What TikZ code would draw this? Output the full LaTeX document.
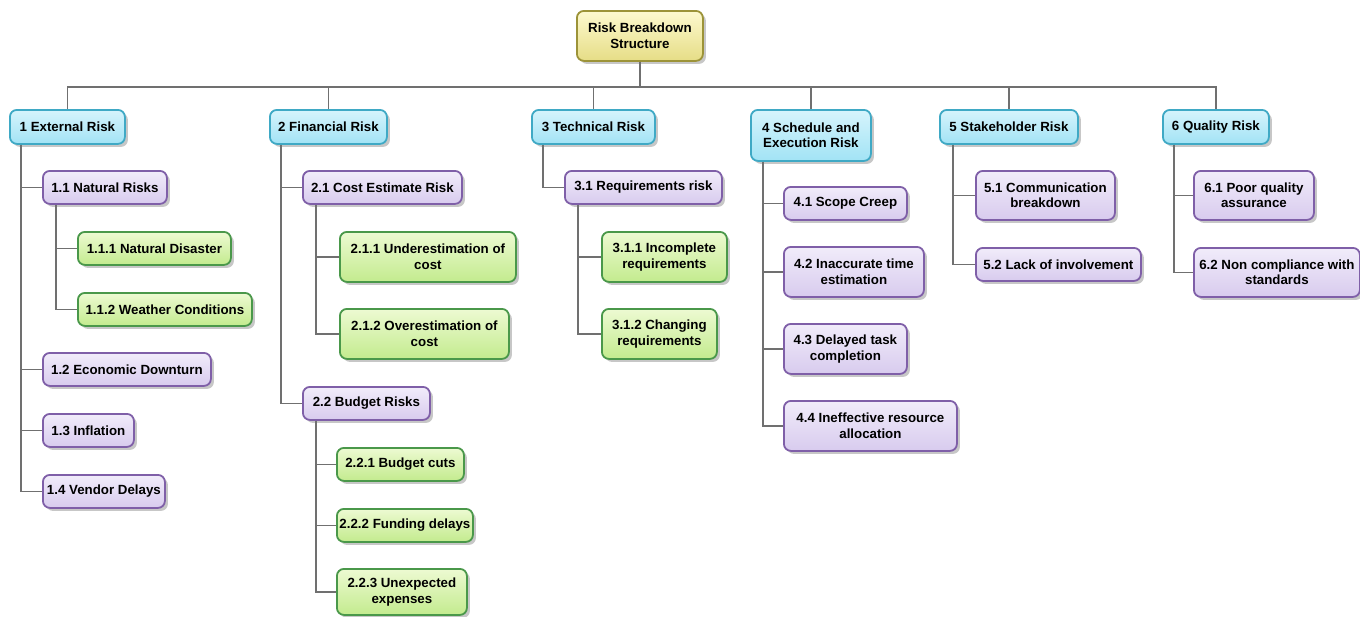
\documentclass[tikz,border=0pt]{standalone}
\usepackage{fontspec}
\setmainfont{Liberation Sans}
\usetikzlibrary{shadows}
\definecolor{roottop}{HTML}{FDF9CF}
\definecolor{rootbot}{HTML}{E6DD86}
\definecolor{rootdraw}{HTML}{9C9338}
\definecolor{bluetop}{HTML}{D6F4FC}
\definecolor{bluebot}{HTML}{A2E3F5}
\definecolor{bluedraw}{HTML}{3FA9C5}
\definecolor{purptop}{HTML}{F1ECFA}
\definecolor{purpbot}{HTML}{D8CBEE}
\definecolor{purpdraw}{HTML}{7F5FA8}
\definecolor{greentop}{HTML}{EDFAD2}
\definecolor{greenbot}{HTML}{C3EB8E}
\definecolor{greendraw}{HTML}{4A984A}
\definecolor{linegray}{HTML}{707070}
\begin{document}
\begin{tikzpicture}[x=1pt,y=-1pt,
  box/.style={draw, rounded corners=7pt, line width=1.8pt, anchor=north west,
    font=\fontsize{13.3}{15.5}\selectfont\bfseries, align=center, inner sep=0pt,
    drop shadow={shadow xshift=3pt, shadow yshift=-3pt, fill=black, opacity=0.22}},
  rootbox/.style={box, draw=rootdraw, top color=roottop, bottom color=rootbot},
  bluebox/.style={box, draw=bluedraw, top color=bluetop, bottom color=bluebot},
  purpbox/.style={box, draw=purpdraw, top color=purptop, bottom color=purpbot},
  greenbox/.style={box, draw=greendraw, top color=greentop, bottom color=greenbot},
  sz/.style 2 args={minimum width=#1pt, minimum height=#2pt},
  conn/.style={draw=linegray, line width=1.7pt}
]
\useasboundingbox (0,0) rectangle (1360,616);

% root
\node[rootbox, sz={126}{50}] (root) at (576,10) {Risk Breakdown\\Structure};

% level 1
\node[bluebox, sz={115}{34}] (n1) at (9,109) {1 External Risk};
\node[bluebox, sz={117}{34}] (n2) at (269,109) {2 Financial Risk};
\node[bluebox, sz={123}{34}] (n3) at (531,109) {3 Technical Risk};
\node[bluebox, sz={120}{51}] (n4) at (750,109) {4 Schedule and\\Execution Risk};
\node[bluebox, sz={138}{34}] (n5) at (939,109) {5 Stakeholder Risk};
\node[bluebox, sz={106}{34}] (n6) at (1162,109) {6 Quality Risk};

% branch 1
\node[purpbox, sz={124}{33}] (n11) at (42,170) {1.1 Natural Risks};
\node[greenbox, sz={153}{33}] (n111) at (77,231) {1.1.1 Natural Disaster};
\node[greenbox, sz={174}{33}] (n112) at (77,292) {1.1.2 Weather Conditions};
\node[purpbox, sz={168}{33}] (n12) at (42,352) {1.2 Economic Downturn};
\node[purpbox, sz={91}{33}] (n13) at (42,413) {1.3 Inflation};
\node[purpbox, sz={122}{33}] (n14) at (42,474) {1.4 Vendor Delays};

% branch 2
\node[purpbox, sz={159}{33}] (n21) at (302,170) {2.1 Cost Estimate Risk};
\node[greenbox, sz={176}{50}] (n211) at (339,231) {2.1.1 Underestimation of\\cost};
\node[greenbox, sz={169}{50}] (n212) at (339,308) {2.1.2 Overestimation of\\cost};
\node[purpbox, sz={127}{33}] (n22) at (302,386) {2.2 Budget Risks};
\node[greenbox, sz={127}{33}] (n221) at (336,447) {2.2.1 Budget cuts};
\node[greenbox, sz={136}{33}] (n222) at (336,508) {2.2.2 Funding delays};
\node[greenbox, sz={130}{46}] (n223) at (336,568) {2.2.3 Unexpected\\expenses};

% branch 3
\node[purpbox, sz={157}{33}] (n31) at (564,170) {3.1 Requirements risk};
\node[greenbox, sz={125}{50}] (n311) at (601,231) {3.1.1 Incomplete\\requirements};
\node[greenbox, sz={115}{50}] (n312) at (601,308) {3.1.2 Changing\\requirements};

% branch 4
\node[purpbox, sz={123}{33}] (n41) at (783,186) {4.1 Scope Creep};
\node[purpbox, sz={140}{50}] (n42) at (783,246) {4.2 Inaccurate time\\estimation};
\node[purpbox, sz={123}{50}] (n43) at (783,323) {4.3 Delayed task\\completion};
\node[purpbox, sz={173}{50}] (n44) at (783,400) {4.4 Ineffective resource\\allocation};

% branch 5
\node[purpbox, sz={139}{49}] (n51) at (975,170) {5.1 Communication\\breakdown};
\node[purpbox, sz={165}{33}] (n52) at (975,247) {5.2 Lack of involvement};

% branch 6
\node[purpbox, sz={120}{49}] (n61) at (1193,170) {6.1 Poor quality\\assurance};
\node[purpbox, sz={166}{49}] (n62) at (1193,247) {6.2 Non compliance with\\standards};

% connectors root -> level 1
\coordinate (bar) at (639,87);
\foreach \n in {n1,n2,n3,n4,n5,n6}
  \draw[conn] (root.south) -- (root.south |- bar) -| (\n.north);

% level 1 -> level 2
\foreach \p/\c/\o in {n1/n11/12,n1/n12/12,n1/n13/12,n1/n14/12,n2/n21/12,n2/n22/12,n3/n31/12,
  n4/n41/13,n4/n42/13,n4/n43/13,n4/n44/13,n5/n51/14,n5/n52/14,n6/n61/12,n6/n62/12}
  \draw[conn] ([xshift=\o pt]\p.south west) |- (\c.west);

% level 2 -> level 3
\foreach \p/\c in {n11/n111,n11/n112,n21/n211,n21/n212,n22/n221,n22/n222,n22/n223,
  n31/n311,n31/n312}
  \draw[conn] ([xshift=14pt]\p.south west) |- (\c.west);
\end{tikzpicture}
\end{document}
